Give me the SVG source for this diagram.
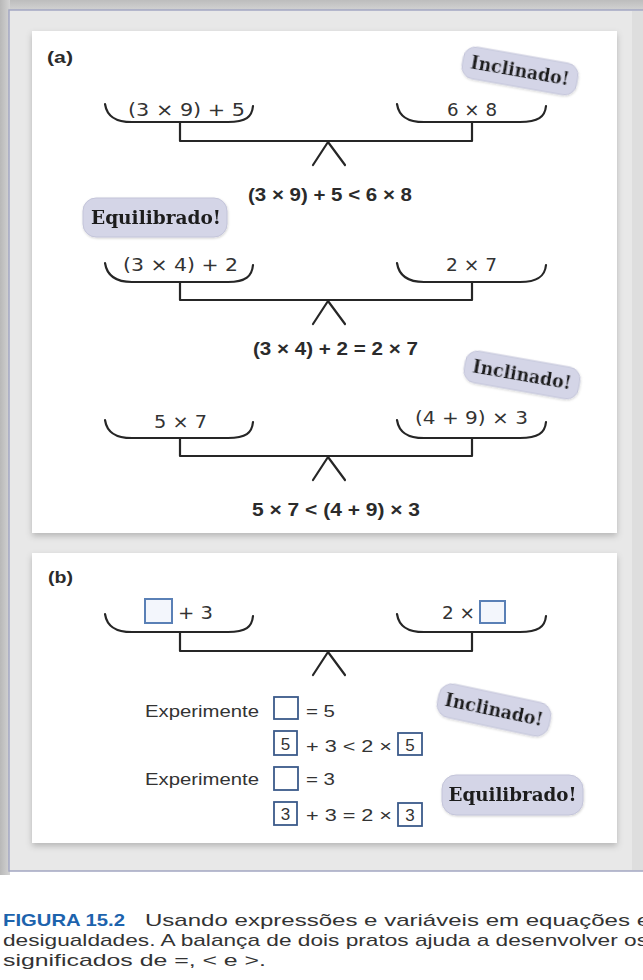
<svg xmlns="http://www.w3.org/2000/svg" width="643" height="980" viewBox="0 0 643 980">
<defs>
<linearGradient id="topShadow" x1="0" y1="0" x2="0" y2="1">
<stop offset="0" stop-color="#bdbdbd"/><stop offset="1" stop-color="#d6d6d6"/>
</linearGradient>
<linearGradient id="leftShadow" x1="0" y1="0" x2="1" y2="0">
<stop offset="0" stop-color="#b8b8b8"/><stop offset="1" stop-color="#d4d4d4"/>
</linearGradient>
<filter id="panelShadow" x="-5%" y="-5%" width="110%" height="115%">
<feDropShadow dx="0" dy="3" stdDeviation="3" flood-color="#000" flood-opacity="0.22"/>
</filter>
<filter id="badgeShadow" x="-10%" y="-20%" width="120%" height="140%">
<feDropShadow dx="0.5" dy="1" stdDeviation="1" flood-color="#000" flood-opacity="0.18"/>
</filter>
<style>
.ink{fill:none;stroke:#262626;stroke-width:2.2;stroke-linecap:round;stroke-linejoin:round}
.hand{font-family:"DejaVu Sans","Liberation Sans",sans-serif;font-size:17px;fill:#333}
.eq{font-family:"Liberation Sans",Arial,sans-serif;font-weight:bold;font-size:18px;fill:#2b2b2b}
.lbl{font-family:"Liberation Sans",Arial,sans-serif;font-weight:bold;font-size:17px;fill:#2b2b2b}
.txt{font-family:"Liberation Sans",Arial,sans-serif;font-size:17px;fill:#333}
.badge{fill:#d4d5e7;stroke:#c3c4d9;stroke-width:1}
.btxt{font-family:"DejaVu Serif","Liberation Serif",serif;font-weight:bold;font-size:18px;fill:#1e1e1e;text-anchor:middle}
.box{fill:#fff;stroke:#3b5a8a;stroke-width:1.8}
.panbox{fill:#f3f6fc;stroke:#5a80b6;stroke-width:2}
.cap{font-family:"Liberation Sans","Open Sans",sans-serif;font-size:17px;fill:#333}
.capb{font-family:"Liberation Sans","Open Sans",sans-serif;font-size:17px;font-weight:bold;fill:#1d63ad}
</style>
</defs>

<!-- page background and frame -->
<rect x="0" y="0" width="643" height="980" fill="#ffffff"/>
<rect x="0" y="0" width="643" height="12" fill="url(#topShadow)"/>
<rect x="0" y="0" width="10" height="875" fill="url(#leftShadow)"/>
<rect x="9" y="10" width="640" height="861" fill="#e8e8e8" stroke="#a3a7c2" stroke-width="1.5"/>
<rect x="632" y="11" width="11" height="859" fill="#dedede"/>

<!-- panels -->
<rect id="panel-a" x="32" y="31" width="585" height="502" fill="#ffffff" filter="url(#panelShadow)"/>
<rect id="panel-b" x="32" y="553" width="585" height="290" fill="#ffffff" filter="url(#panelShadow)"/>

<text id="label-a" class="lbl" x="47" y="63" textLength="26" lengthAdjust="spacingAndGlyphs">(a)</text>
<text id="label-b" class="lbl" x="48" y="583" textLength="25" lengthAdjust="spacingAndGlyphs">(b)</text>

<!-- Balance 1 -->
<g id="balance1">
<path class="ink" d="M105,104 C107,117 116,122 132,122 L228,122 C246,122 252,117 253,106"/>
<path class="ink" d="M397,104 C399,117 408,122 424,122 L520,122 C538,122 545,117 546,106"/>
<path class="ink" d="M180,122 L180,141 L472,141 L472,122"/>
<path class="ink" d="M313,165 L328,142 L345,165"/>
<text class="hand" x="128" y="116" textLength="117" lengthAdjust="spacingAndGlyphs">(3 × 9) + 5</text>
<text class="hand" x="447" y="116" textLength="50" lengthAdjust="spacingAndGlyphs">6 × 8</text>
</g>
<text id="eq1" class="eq" x="248" y="201" textLength="164" lengthAdjust="spacingAndGlyphs">(3 × 9) + 5 &lt; 6 × 8</text>

<!-- Balance 2 -->
<g id="balance2">
<path class="ink" d="M105,263 C107,276 116,282 132,282 L228,282 C246,282 252,276 253,265"/>
<path class="ink" d="M397,263 C399,276 408,282 424,282 L520,282 C538,282 545,276 546,265"/>
<path class="ink" d="M180,282 L180,300 L472,300 L472,282"/>
<path class="ink" d="M313,324 L328,301 L345,324"/>
<text class="hand" x="123" y="271" textLength="115" lengthAdjust="spacingAndGlyphs">(3 × 4) + 2</text>
<text class="hand" x="446" y="271" textLength="51" lengthAdjust="spacingAndGlyphs">2 × 7</text>
</g>
<text id="eq2" class="eq" x="253" y="355" textLength="165" lengthAdjust="spacingAndGlyphs">(3 × 4) + 2 = 2 × 7</text>

<!-- Balance 3 -->
<g id="balance3">
<path class="ink" d="M105,420 C107,433 116,438 132,438 L228,438 C246,438 252,433 253,422"/>
<path class="ink" d="M397,420 C399,433 408,438 424,438 L520,438 C538,438 545,433 546,422"/>
<path class="ink" d="M180,438 L180,456 L472,456 L472,438"/>
<path class="ink" d="M313,480 L328,457 L345,480"/>
<text class="hand" x="154" y="428" textLength="53" lengthAdjust="spacingAndGlyphs">5 × 7</text>
<text class="hand" x="415" y="424" textLength="113" lengthAdjust="spacingAndGlyphs">(4 + 9) × 3</text>
</g>
<text id="eq3" class="eq" x="252" y="516" textLength="168" lengthAdjust="spacingAndGlyphs">5 × 7 &lt; (4 + 9) × 3</text>

<!-- Balance 4 -->
<g id="balance4">
<path class="ink" d="M105,614 C107,627 116,632 132,632 L228,632 C246,632 252,627 253,616"/>
<path class="ink" d="M397,614 C399,627 408,632 424,632 L520,632 C538,632 545,627 546,616"/>
<path class="ink" d="M180,632 L180,651 L472,651 L472,632"/>
<path class="ink" d="M313,675 L328,652 L345,675"/>
<rect class="panbox" x="145" y="599" width="27" height="24"/>
<text class="hand" x="178" y="619" textLength="35" lengthAdjust="spacingAndGlyphs">+ 3</text>
<text class="hand" x="442" y="619" textLength="33" lengthAdjust="spacingAndGlyphs">2 ×</text>
<rect class="panbox" x="480" y="601" width="25" height="22"/>
</g>

<!-- trials -->
<g id="trial1">
<text class="txt" x="145" y="717" textLength="114" lengthAdjust="spacingAndGlyphs">Experimente</text>
<rect class="box" x="274" y="697" width="24" height="22"/>
<text class="txt" x="306" y="717" textLength="29" lengthAdjust="spacingAndGlyphs">= 5</text>
</g>
<g id="result1">
<rect class="box" x="274" y="731" width="23" height="24"/>
<text class="txt" x="285.5" y="750" text-anchor="middle">5</text>
<text class="txt" x="306" y="752" textLength="86" lengthAdjust="spacingAndGlyphs">+ 3 &lt; 2 ×</text>
<rect class="box" x="398" y="733" width="24" height="22"/>
<text class="txt" x="410" y="751" text-anchor="middle">5</text>
</g>
<g id="trial2">
<text class="txt" x="145" y="785" textLength="114" lengthAdjust="spacingAndGlyphs">Experimente</text>
<rect class="box" x="274" y="767" width="24" height="23"/>
<text class="txt" x="306" y="785" textLength="29" lengthAdjust="spacingAndGlyphs">= 3</text>
</g>
<g id="result2">
<rect class="box" x="274" y="802" width="23" height="23"/>
<text class="txt" x="285.5" y="820" text-anchor="middle">3</text>
<text class="txt" x="306" y="821" textLength="86" lengthAdjust="spacingAndGlyphs">+ 3 = 2 ×</text>
<rect class="box" x="398" y="803" width="24" height="23"/>
<text class="txt" x="410" y="821" text-anchor="middle">3</text>
</g>

<!-- badges -->
<g id="badge-inclinado-1" transform="translate(520,71) rotate(10)" filter="url(#badgeShadow)">
<rect class="badge" x="-58" y="-16" width="116" height="32" rx="12"/>
<text class="btxt" x="0" y="6" textLength="100" lengthAdjust="spacingAndGlyphs">Inclinado!</text>
</g>
<g id="badge-equilibrado-1" filter="url(#badgeShadow)">
<rect class="badge" x="83" y="198" width="144" height="39" rx="13"/>
<text class="btxt" x="156" y="224" textLength="130" lengthAdjust="spacingAndGlyphs">Equilibrado!</text>
</g>
<g id="badge-inclinado-2" transform="translate(522,375) rotate(10)" filter="url(#badgeShadow)">
<rect class="badge" x="-58" y="-16" width="116" height="32" rx="12"/>
<text class="btxt" x="0" y="6" textLength="100" lengthAdjust="spacingAndGlyphs">Inclinado!</text>
</g>
<g id="badge-inclinado-3" transform="translate(494,710) rotate(12)" filter="url(#badgeShadow)">
<rect class="badge" x="-57" y="-17" width="114" height="34" rx="13"/>
<text class="btxt" x="0" y="6" textLength="100" lengthAdjust="spacingAndGlyphs">Inclinado!</text>
</g>
<g id="badge-equilibrado-2" filter="url(#badgeShadow)">
<rect class="badge" x="442" y="775" width="141" height="40" rx="14"/>
<text class="btxt" x="512.5" y="801" textLength="128" lengthAdjust="spacingAndGlyphs">Equilibrado!</text>
</g>

<!-- caption -->
<g id="caption">
<text class="capb" x="3" y="926" textLength="122" lengthAdjust="spacingAndGlyphs">FIGURA 15.2</text>
<text class="cap" x="145" y="926" textLength="505" lengthAdjust="spacingAndGlyphs">Usando expressões e variáveis em equações e</text>
<text class="cap" x="3" y="946" textLength="645" lengthAdjust="spacingAndGlyphs">desigualdades. A balança de dois pratos ajuda a desenvolver os</text>
<text class="cap" x="3" y="966" textLength="263" lengthAdjust="spacingAndGlyphs">significados de =, &lt; e &gt;.</text>
</g>
</svg>
